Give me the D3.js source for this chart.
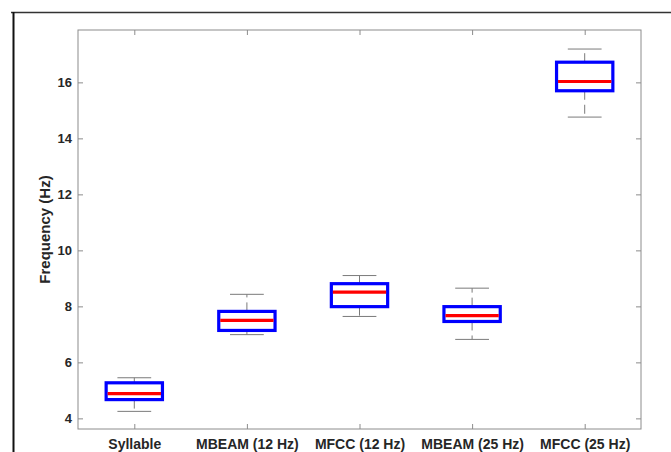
<!DOCTYPE html>
<html>
<head>
<meta charset="utf-8">
<script src="https://cdn.jsdelivr.net/npm/d3@7"></script>
<style>
  body { margin: 0; background: #fff; }
  svg { display: block; }
  .tick text { font-family: "Liberation Sans", Arial, sans-serif; font-weight: bold; fill: #262626; }
</style>
</head>
<body>
<script>
// values
var categories = ["Syllable", "MBEAM (12 Hz)", "MFCC (12 Hz)", "MBEAM (25 Hz)", "MFCC (25 Hz)"];
var whiskerLow  = [4.25, 6.99, 7.64, 6.82, 14.76];
var q1          = [4.67, 7.14, 7.99, 7.46, 15.70];
var medians     = [4.88, 7.50, 8.51, 7.67, 16.03];
var q3          = [5.27, 7.82, 8.81, 7.99, 16.72];
var whiskerHigh = [5.45, 8.43, 9.10, 8.65, 17.19];
var yTicks = [4, 6, 8, 10, 12, 14, 16];

function main(){
  var W = 671, H = 452;
  var left = 78, right = 641, top = 30, bottom = 429;

  var svg = d3.select("body").append("svg")
    .attr("width", W)
    .attr("height", H);

  // figure frame lines (top and left)
  svg.append("line").attr("x1", 11).attr("x2", W).attr("y1", 12.5).attr("y2", 12.5)
    .attr("stroke", "#333").attr("stroke-width", 1.5);
  svg.append("line").attr("x1", 13.5).attr("x2", 13.5).attr("y1", 12).attr("y2", H)
    .attr("stroke", "#111").attr("stroke-width", 2);

  var x = d3.scalePoint().domain(categories).range([left, right]).padding(0.5);
  var y = d3.scaleLinear().domain([3.62, 17.87]).range([bottom, top]);
  var step = x.step();

  var rows = categories.map(function(c, i){
    return {cat: c, lo: whiskerLow[i], q1: q1[i], med: medians[i], q3: q3[i], hi: whiskerHigh[i]};
  });

  // axes, ticks pointing inward
  var axisCol = "#8c8c8c";
  var gl = svg.append("g").attr("transform", "translate(" + left + ",0)")
    .call(d3.axisLeft(y).tickValues(yTicks).tickSizeInner(-5).tickSizeOuter(0).tickPadding(6));
  gl.selectAll(".tick text").style("font-size", "13px");
  var gr = svg.append("g").attr("transform", "translate(" + right + ",0)")
    .call(d3.axisRight(y).tickValues(yTicks).tickSizeInner(-5).tickSizeOuter(0).tickFormat(""));
  var gb = svg.append("g").attr("transform", "translate(0," + bottom + ")")
    .call(d3.axisBottom(x).tickSizeInner(-5).tickSizeOuter(0).tickPadding(10));
  gb.selectAll(".tick text").style("font-size", "14px");
  var gt = svg.append("g").attr("transform", "translate(0," + top + ")")
    .call(d3.axisTop(x).tickSizeInner(-5).tickSizeOuter(0).tickFormat(""));
  [gl, gr, gb, gt].forEach(function(g){
    g.select(".domain").remove();
    g.selectAll(".tick line").attr("stroke", axisCol);
  });

  svg.append("rect")
    .attr("x", left).attr("y", top)
    .attr("width", right - left).attr("height", bottom - top)
    .attr("fill", "none").attr("stroke", axisCol).attr("stroke-width", 1);

  // y label
  svg.append("text")
    .attr("transform", "translate(50," + ((top + bottom) / 2) + ") rotate(-90)")
    .attr("text-anchor", "middle")
    .style("font-family", "'Liberation Sans', Arial, sans-serif")
    .style("font-weight", "bold")
    .style("font-size", "15px")
    .attr("fill", "#262626")
    .text("Frequency (Hz)");

  // boxes
  var box = svg.selectAll("g.box").data(rows).enter().append("g")
    .attr("class", "box")
    .attr("transform", function(d){ return "translate(" + x(d.cat) + ",0)"; });

  // whiskers drawn from the box outward, dashed
  var wcol = "#7a7a7a", capW = step * 0.15;
  box.append("line").attr("x1", 0).attr("x2", 0)
    .attr("y1", function(d){ return y(d.q3); }).attr("y2", function(d){ return y(d.hi); })
    .attr("stroke", wcol).attr("stroke-dasharray", "9,5");
  box.append("line").attr("x1", 0).attr("x2", 0)
    .attr("y1", function(d){ return y(d.q1); }).attr("y2", function(d){ return y(d.lo); })
    .attr("stroke", wcol).attr("stroke-dasharray", "9,5");
  box.append("line").attr("x1", -capW).attr("x2", capW)
    .attr("y1", function(d){ return y(d.hi); }).attr("y2", function(d){ return y(d.hi); })
    .attr("stroke", wcol);
  box.append("line").attr("x1", -capW).attr("x2", capW)
    .attr("y1", function(d){ return y(d.lo); }).attr("y2", function(d){ return y(d.lo); })
    .attr("stroke", wcol);

  var bw = step * 0.5;
  box.append("rect")
    .attr("x", -bw / 2).attr("width", bw)
    .attr("y", function(d){ return y(d.q3); })
    .attr("height", function(d){ return y(d.q1) - y(d.q3); })
    .attr("fill", "#fff").attr("stroke", "#0000ff").attr("stroke-width", 3.2);
  box.append("line").attr("x1", -bw / 2 + 1.5).attr("x2", bw / 2 - 1.5)
    .attr("y1", function(d){ return y(d.med); }).attr("y2", function(d){ return y(d.med); })
    .attr("stroke", "#ff0000").attr("stroke-width", 3.2);
}

main();
</script>
</body>
</html>
